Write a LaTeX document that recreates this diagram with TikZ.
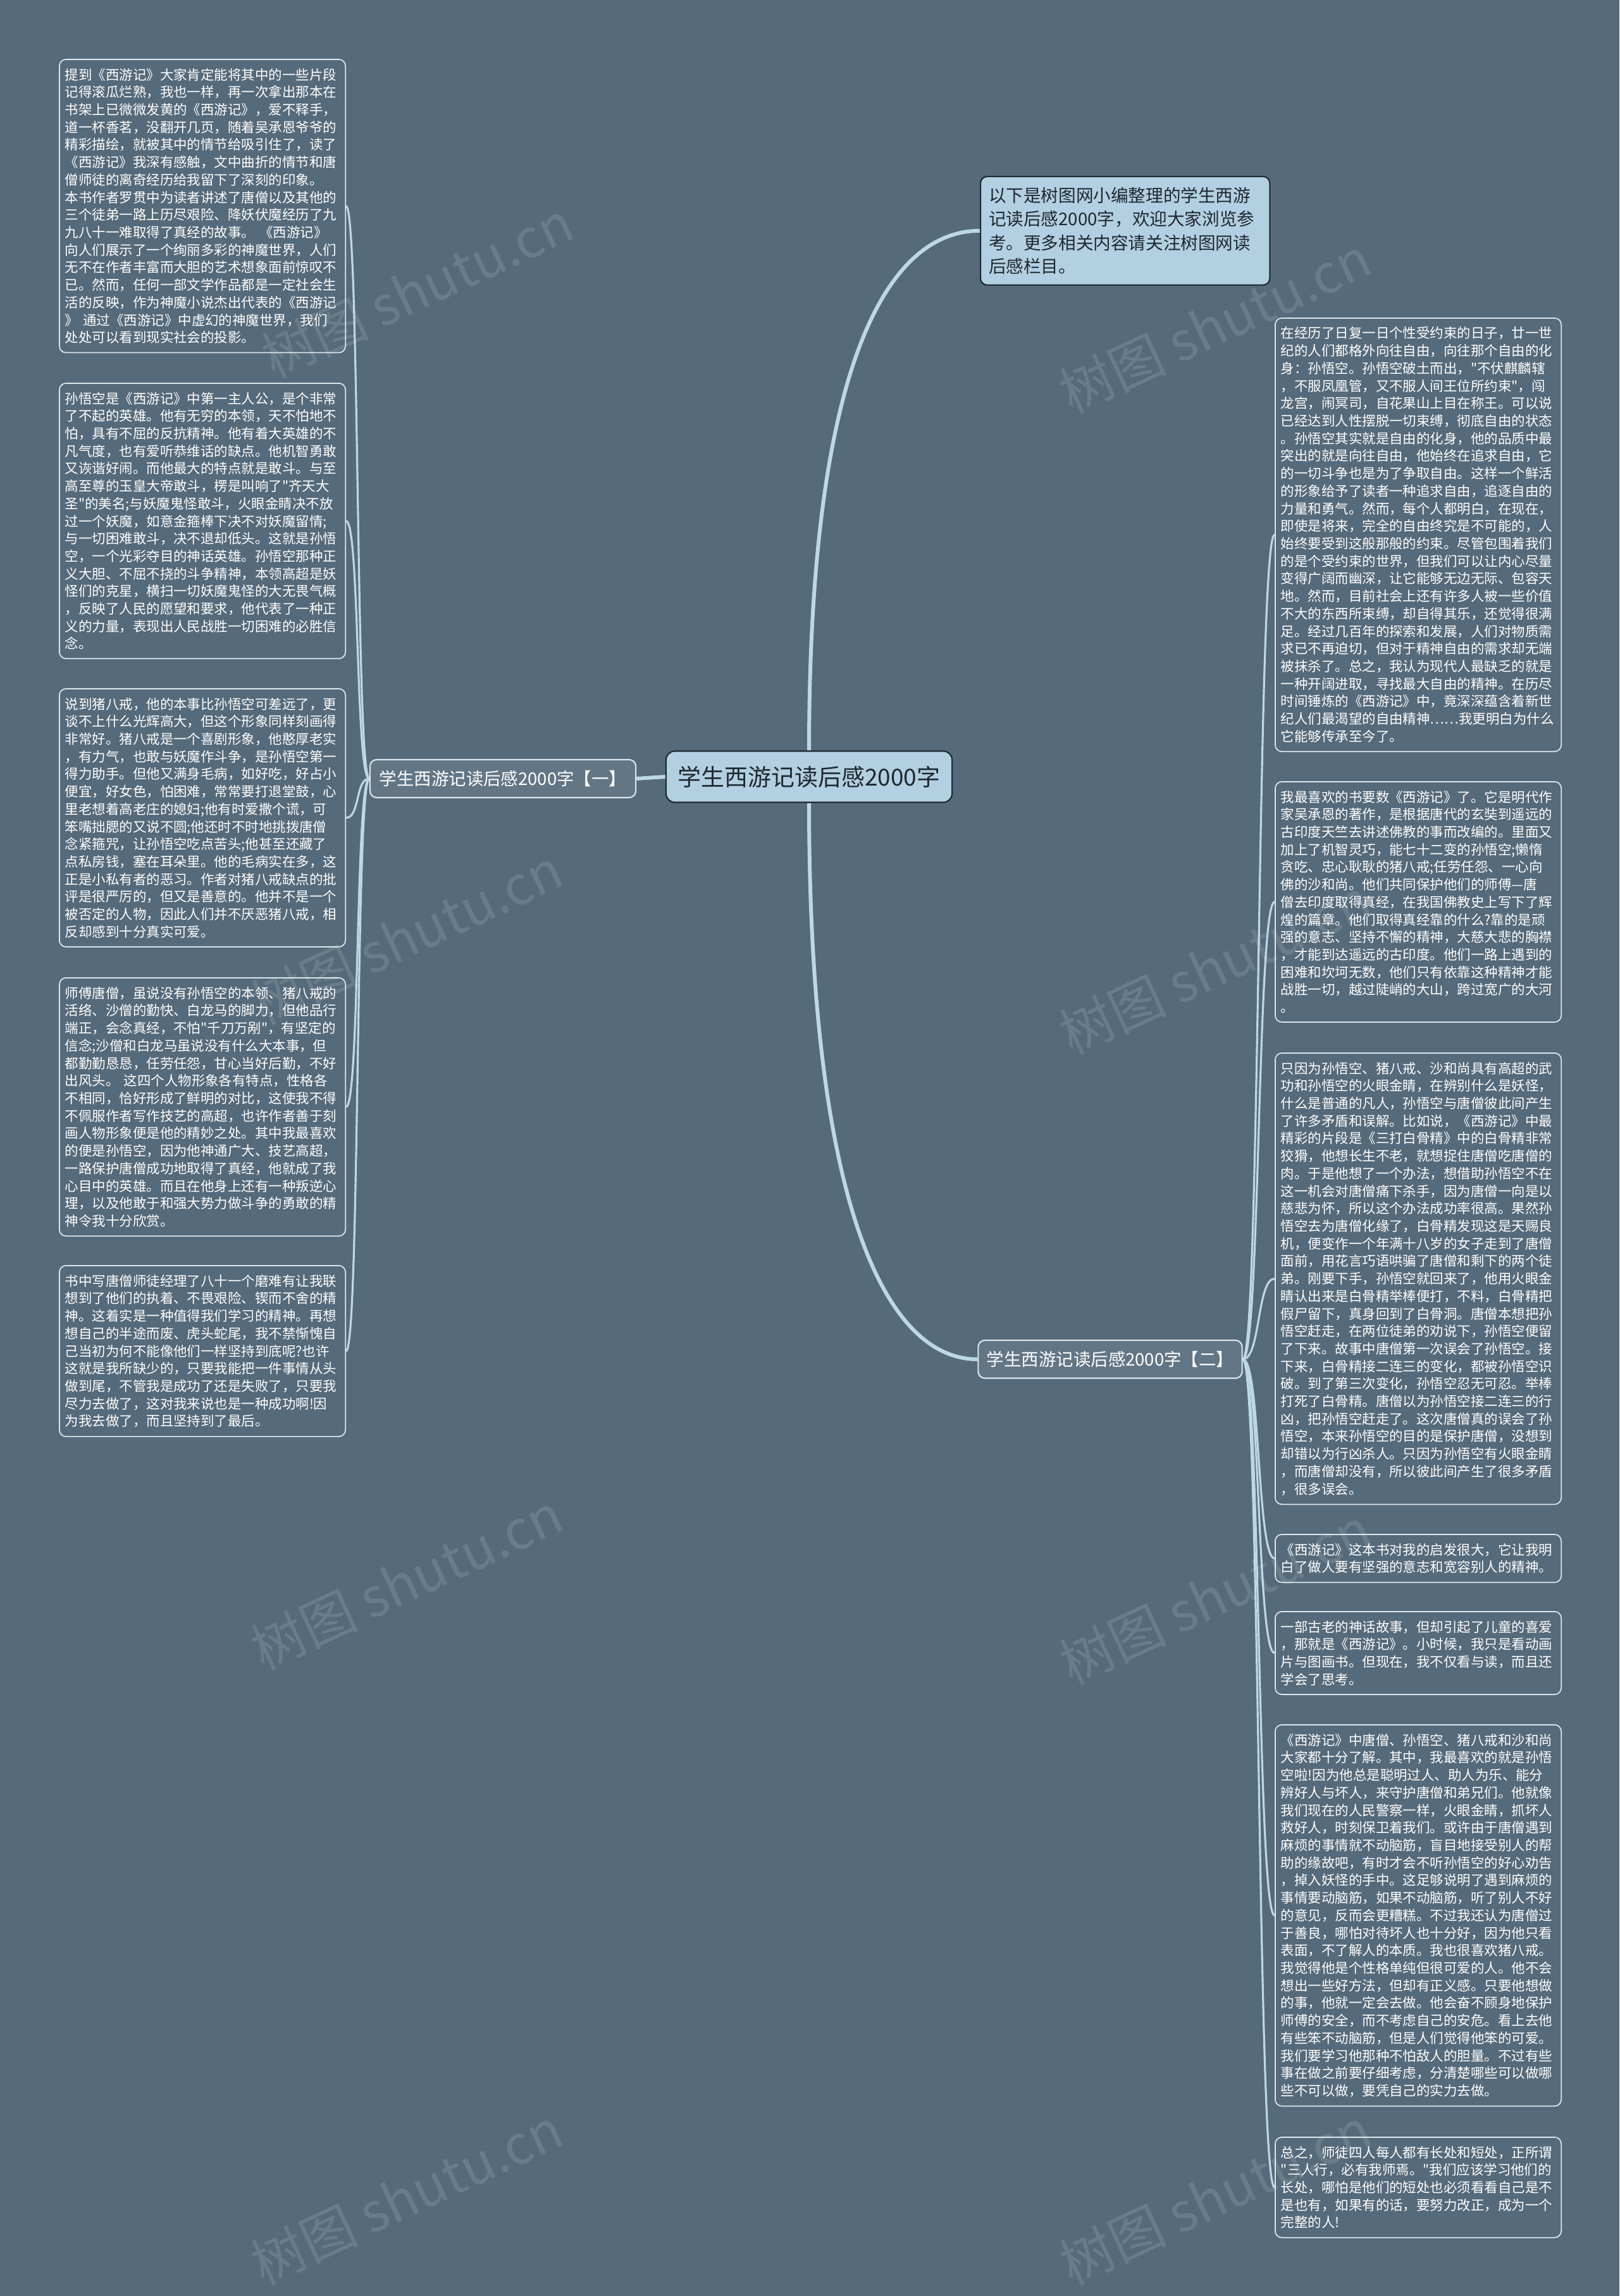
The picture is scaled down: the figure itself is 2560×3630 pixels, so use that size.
\documentclass[tikz,border=0pt]{standalone}
\usepackage{fontspec}
\setmainfont{Noto Sans CJK SC}[Ligatures=TeXOff]
\usetikzlibrary{positioning,calc,backgrounds}
\definecolor{mapbg}{HTML}{556A7A}
\definecolor{mapline}{HTML}{BCD8E6}
\definecolor{mapframe}{HTML}{DCE6EC}
\definecolor{mapfill}{HTML}{B3CFE2}
\definecolor{mapdark}{HTML}{1E2830}

\begin{document}
\begin{tikzpicture}[x=0.01cm, y=-0.01cm,
    leaf/.style={draw=mapframe, fill=mapbg, line width=0.5pt, rounded corners=3pt, anchor=north west, text=white, align=left, text width=4.34cm, inner xsep=0.09cm, inner ysep=0.14cm, font=\fontsize{6.1pt}{7.88pt}\selectfont},
    note/.style={draw=mapdark, fill=mapfill, line width=0.6pt, rounded corners=3pt, anchor=north west, text=mapdark, align=left, text width=4.31cm, inner xsep=0.13cm, inner ysep=0.17cm, font=\fontsize{7.85pt}{10.6pt}\selectfont},
    hub/.style={draw=mapdark, fill=mapfill, line width=0.6pt, rounded corners=4pt, text=mapdark, minimum width=4.52cm, minimum height=0.81cm, font=\fontsize{10.5pt}{12pt}\selectfont},
    branch/.style={draw=mapframe, fill=mapbg!92!white, line width=0.6pt, rounded corners=3pt, text=white, minimum height=0.6cm, font=\fontsize{7.8pt}{9pt}\selectfont},
    trunk/.style={draw=mapline, line width=1.7pt},
    twig/.style={draw=mapline, line width=0.9pt},
    wmark/.style={white, opacity=0.12, rotate=25, font=\fontsize{24pt}{24pt}\selectfont},
]
\begin{pgfonlayer}{background}
\fill[mapbg] (0,0) rectangle (2560,3630);
\end{pgfonlayer}
\useasboundingbox (0,0) rectangle (2560,3630);

% centre and branches
\node[hub] (hub) at (1279,1228) {学生西游记读后感2000字};
\node[branch, minimum width=4.2cm] (lbr) at (795,1231) {学生西游记读后感2000字【一】};
\node[branch, minimum width=4.17cm] (rbr) at (1755,2149) {学生西游记读后感2000字【二】};
\node[note] (intro) at (1549,278) {以下是树图网小编整理的学生西游\\记读后感2000字，欢迎大家浏览参\\考。更多相关内容请关注树图网读\\后感栏目。};

% left side
\node[leaf] (l1) at (93,93) {提到《西游记》大家肯定能将其中的一些片段\\记得滚瓜烂熟，我也一样，再一次拿出那本在\\书架上已微微发黄的《西游记》，爱不释手，\\道一杯香茗，没翻开几页，随着吴承恩爷爷的\\精彩描绘，就被其中的情节给吸引住了，读了\\《西游记》我深有感触，文中曲折的情节和唐\\僧师徒的离奇经历给我留下了深刻的印象。\\本书作者罗贯中为读者讲述了唐僧以及其他的\\三个徒弟一路上历尽艰险、降妖伏魔经历了九\\九八十一难取得了真经的故事。 《西游记》\\向人们展示了一个绚丽多彩的神魔世界，人们\\无不在作者丰富而大胆的艺术想象面前惊叹不\\已。然而，任何一部文学作品都是一定社会生\\活的反映，作为神魔小说杰出代表的《西游记\\》 通过《西游记》中虚幻的神魔世界，我们\\处处可以看到现实社会的投影。};
\node[leaf] (l2) at (93,605) {孙悟空是《西游记》中第一主人公，是个非常\\了不起的英雄。他有无穷的本领，天不怕地不\\怕，具有不屈的反抗精神。他有着大英雄的不\\凡气度，也有爱听恭维话的缺点。他机智勇敢\\又诙谐好闹。而他最大的特点就是敢斗。与至\\高至尊的玉皇大帝敢斗，楞是叫响了"齐天大\\圣"的美名;与妖魔鬼怪敢斗，火眼金睛决不放\\过一个妖魔，如意金箍棒下决不对妖魔留情;\\与一切困难敢斗，决不退却低头。这就是孙悟\\空，一个光彩夺目的神话英雄。孙悟空那种正\\义大胆、不屈不挠的斗争精神，本领高超是妖\\怪们的克星，横扫一切妖魔鬼怪的大无畏气概\\，反映了人民的愿望和要求，他代表了一种正\\义的力量，表现出人民战胜一切困难的必胜信\\念。};
\node[leaf] (l3) at (93,1088) {说到猪八戒，他的本事比孙悟空可差远了，更\\谈不上什么光辉高大，但这个形象同样刻画得\\非常好。猪八戒是一个喜剧形象，他憨厚老实\\，有力气，也敢与妖魔作斗争，是孙悟空第一\\得力助手。但他又满身毛病，如好吃，好占小\\便宜，好女色，怕困难，常常要打退堂鼓，心\\里老想着高老庄的媳妇;他有时爱撒个谎，可\\笨嘴拙腮的又说不圆;他还时不时地挑拨唐僧\\念紧箍咒，让孙悟空吃点苦头;他甚至还藏了\\点私房钱，塞在耳朵里。他的毛病实在多，这\\正是小私有者的恶习。作者对猪八戒缺点的批\\评是很严厉的，但又是善意的。他并不是一个\\被否定的人物，因此人们并不厌恶猪八戒，相\\反却感到十分真实可爱。};
\node[leaf] (l4) at (93,1545) {师傅唐僧，虽说没有孙悟空的本领、猪八戒的\\活络、沙僧的勤快、白龙马的脚力，但他品行\\端正，会念真经，不怕"千刀万剐"，有坚定的\\信念;沙僧和白龙马虽说没有什么大本事，但\\都勤勤恳恳，任劳任怨，甘心当好后勤，不好\\出风头。 这四个人物形象各有特点，性格各\\不相同，恰好形成了鲜明的对比，这使我不得\\不佩服作者写作技艺的高超，也许作者善于刻\\画人物形象便是他的精妙之处。其中我最喜欢\\的便是孙悟空，因为他神通广大、技艺高超，\\一路保护唐僧成功地取得了真经，他就成了我\\心目中的英雄。而且在他身上还有一种叛逆心\\理，以及他敢于和强大势力做斗争的勇敢的精\\神令我十分欣赏。};
\node[leaf] (l5) at (93,2000) {书中写唐僧师徒经理了八十一个磨难有让我联\\想到了他们的执着、不畏艰险、锲而不舍的精\\神。这着实是一种值得我们学习的精神。再想\\想自己的半途而废、虎头蛇尾，我不禁惭愧自\\己当初为何不能像他们一样坚持到底呢?也许\\这就是我所缺少的，只要我能把一件事情从头\\做到尾，不管我是成功了还是失败了，只要我\\尽力去做了，这对我来说也是一种成功啊!因\\为我去做了，而且坚持到了最后。};

% right side
\node[leaf] (r1) at (2015,502) {在经历了日复一日个性受约束的日子，廿一世\\纪的人们都格外向往自由，向往那个自由的化\\身：孙悟空。孙悟空破土而出，"不伏麒麟辖\\，不服凤凰管，又不服人间王位所约束"，闯\\龙宫，闹冥司，自花果山上目在称王。可以说\\已经达到人性摆脱一切束缚，彻底自由的状态\\。孙悟空其实就是自由的化身，他的品质中最\\突出的就是向往自由，他始终在追求自由，它\\的一切斗争也是为了争取自由。这样一个鲜活\\的形象给予了读者一种追求自由，追逐自由的\\力量和勇气。然而，每个人都明白，在现在，\\即使是将来，完全的自由终究是不可能的，人\\始终要受到这般那般的约束。尽管包围着我们\\的是个受约束的世界，但我们可以让内心尽量\\变得广阔而幽深，让它能够无边无际、包容天\\地。然而，目前社会上还有许多人被一些价值\\不大的东西所束缚，却自得其乐，还觉得很满\\足。经过几百年的探索和发展，人们对物质需\\求已不再迫切，但对于精神自由的需求却无端\\被抹杀了。总之，我认为现代人最缺乏的就是\\一种开阔进取，寻找最大自由的精神。在历尽\\时间锤炼的《西游记》中，竟深深蕴含着新世\\纪人们最渴望的自由精神……我更明白为什么\\它能够传承至今了。};
\node[leaf] (r2) at (2015,1235) {我最喜欢的书要数《西游记》了。它是明代作\\家吴承恩的著作，是根据唐代的玄奘到遥远的\\古印度天竺去讲述佛教的事而改编的。里面又\\加上了机智灵巧，能七十二变的孙悟空;懒惰\\贪吃、忠心耿耿的猪八戒;任劳任怨、一心向\\佛的沙和尚。他们共同保护他们的师傅—唐\\僧去印度取得真经，在我国佛教史上写下了辉\\煌的篇章。他们取得真经靠的什么?靠的是顽\\强的意志、坚持不懈的精神，大慈大悲的胸襟\\，才能到达遥远的古印度。他们一路上遇到的\\困难和坎坷无数，他们只有依靠这种精神才能\\战胜一切，越过陡峭的大山，跨过宽广的大河\\。};
\node[leaf] (r3) at (2015,1664) {只因为孙悟空、猪八戒、沙和尚具有高超的武\\功和孙悟空的火眼金睛，在辨别什么是妖怪，\\什么是普通的凡人，孙悟空与唐僧彼此间产生\\了许多矛盾和误解。比如说，《西游记》中最\\精彩的片段是《三打白骨精》中的白骨精非常\\狡猾，他想长生不老，就想捉住唐僧吃唐僧的\\肉。于是他想了一个办法，想借助孙悟空不在\\这一机会对唐僧痛下杀手，因为唐僧一向是以\\慈悲为怀，所以这个办法成功率很高。果然孙\\悟空去为唐僧化缘了，白骨精发现这是天赐良\\机，便变作一个年满十八岁的女子走到了唐僧\\面前，用花言巧语哄骗了唐僧和剩下的两个徒\\弟。刚要下手，孙悟空就回来了，他用火眼金\\睛认出来是白骨精举棒便打，不料，白骨精把\\假尸留下，真身回到了白骨洞。唐僧本想把孙\\悟空赶走，在两位徒弟的劝说下，孙悟空便留\\了下来。故事中唐僧第一次误会了孙悟空。接\\下来，白骨精接二连三的变化，都被孙悟空识\\破。到了第三次变化，孙悟空忍无可忍。举棒\\打死了白骨精。唐僧以为孙悟空接二连三的行\\凶，把孙悟空赶走了。这次唐僧真的误会了孙\\悟空，本来孙悟空的目的是保护唐僧，没想到\\却错以为行凶杀人。只因为孙悟空有火眼金睛\\，而唐僧却没有，所以彼此间产生了很多矛盾\\，很多误会。};
\node[leaf] (r4) at (2015,2425) {《西游记》这本书对我的启发很大，它让我明\\白了做人要有坚强的意志和宽容别人的精神。};
\node[leaf] (r5) at (2015,2547) {一部古老的神话故事，但却引起了儿童的喜爱\\，那就是《西游记》。小时候，我只是看动画\\片与图画书。但现在，我不仅看与读，而且还\\学会了思考。};
\node[leaf] (r6) at (2015,2726) {《西游记》中唐僧、孙悟空、猪八戒和沙和尚\\大家都十分了解。其中，我最喜欢的就是孙悟\\空啦!因为他总是聪明过人、助人为乐、能分\\辨好人与坏人，来守护唐僧和弟兄们。他就像\\我们现在的人民警察一样，火眼金睛，抓坏人\\救好人，时刻保卫着我们。或许由于唐僧遇到\\麻烦的事情就不动脑筋，盲目地接受别人的帮\\助的缘故吧，有时才会不听孙悟空的好心劝告\\，掉入妖怪的手中。这足够说明了遇到麻烦的\\事情要动脑筋，如果不动脑筋，听了别人不好\\的意见，反而会更糟糕。不过我还认为唐僧过\\于善良，哪怕对待坏人也十分好，因为他只看\\表面，不了解人的本质。我也很喜欢猪八戒。\\我觉得他是个性格单纯但很可爱的人。他不会\\想出一些好方法，但却有正义感。只要他想做\\的事，他就一定会去做。他会奋不顾身地保护\\师傅的安全，而不考虑自己的安危。看上去他\\有些笨不动脑筋，但是人们觉得他笨的可爱。\\我们要学习他那种不怕敌人的胆量。不过有些\\事在做之前要仔细考虑，分清楚哪些可以做哪\\些不可以做，要凭自己的实力去做。};
\node[leaf] (r7) at (2015,3378) {总之，师徒四人每人都有长处和短处，正所谓\\"三人行，必有我师焉。"我们应该学习他们的\\长处，哪怕是他们的短处也必须看看自己是不\\是也有，如果有的话，要努力改正，成为一个\\完整的人!};

\begin{pgfonlayer}{background}
\draw[trunk] (hub.north) .. controls +(0,-600) and +(-150,0) .. (intro.west);
\draw[trunk] (hub.south) .. controls +(0,620) and +(-150,0) .. (rbr.west);
\draw[trunk] (hub.west) -- (lbr.east);
\foreach \b in {l1,l2,l3,l4,l5}
    \draw[twig] (lbr.west) .. controls +(-22,0) and +(22,0) .. (\b.east);
\foreach \b in {r1,r2,r3,r4,r5,r6,r7}
    \draw[twig] (rbr.east) .. controls +(28,0) and +(-28,0) .. (\b.west);
\end{pgfonlayer}

% watermark
\foreach \wx/\wy in {660/458, 1921/514, 643/1481, 1921/1528, 643/2500, 1921/2523, 643/3472, 1921/3472}
    \node[wmark] at (\wx,\wy) {树图 shutu.cn};
\end{tikzpicture}
\end{document}
